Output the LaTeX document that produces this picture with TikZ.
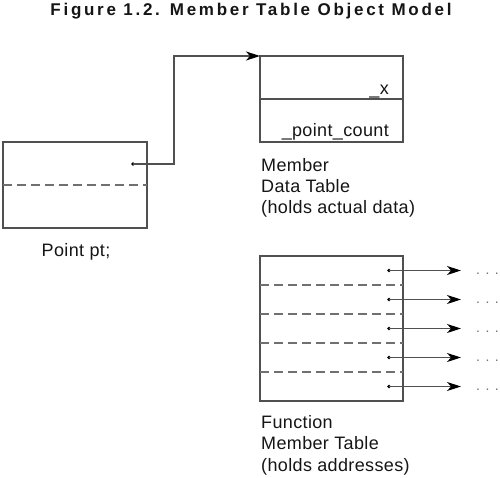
\documentclass[tikz,border=0pt]{standalone}
\usepackage{fontspec}
\setmainfont{Liberation Sans}
\newfontfamily\titlefont[LetterSpace=16]{Liberation Sans Bold}
\newfontfamily\labelfont[LetterSpace=2]{Liberation Sans}
\usetikzlibrary{arrows.meta, positioning}
\definecolor{linegray}{HTML}{505050}
\definecolor{dashgray}{HTML}{707070}
\definecolor{textgray}{HTML}{151515}
\tikzstyle{tablebox}=
[
	rectangle
	,minimum width=143pt
	,inner sep=0pt
	,outer sep=0pt
	,draw=linegray
	,line width=1.3pt
]
\tikzstyle{caption}=
[
	anchor=north west
	,inner sep=0pt
	,align=left
	,text=textgray
	,font=\labelfont\fontsize{18}{21.2}\selectfont
]
\tikzstyle{cell}=
[
	anchor=base east
	,inner sep=0pt
	,text=textgray
	,font=\labelfont\fontsize{18}{21}\selectfont
]
\tikzstyle{sep}=[draw=dashgray, line width=1.3pt, dash pattern=on 9pt off 5pt]
\tikzstyle{arrow} = [draw=linegray, line width=1.3pt, -{Stealth[length=14pt,width=9pt,inset=4pt,color=black]}]
\tikzstyle{line} = [draw=linegray, line width=1.3pt, -]

\begin{document}
\begin{tikzpicture}[x=1pt,y=-1pt]
\useasboundingbox (0,0) rectangle (500,477);
\node(title)[anchor=base, inner sep=0pt, text=textgray, font=\titlefont\fontsize{17}{19}\selectfont] at (251,15) {Figure 1.2. Member Table Object Model};

% Point pt;
\node(pt)[tablebox, minimum width=144pt, minimum height=86pt] at (75,185) {};
\draw[sep](pt.west)--(pt.east);
\coordinate(ptr) at (133,164);
\fill[black](ptr) circle (1.8pt);
\node(ptname)[cell, anchor=base] at (76,256.5) {Point pt;};

% member data table
\node(dx)[tablebox, minimum height=43pt] at (331.5,77.5) {};
\node(dcount)[tablebox, minimum height=43pt, below=0pt of dx] {};
\node(xlab)[cell] at ([xshift=-14pt,yshift=5pt]dx.south east) {\_x};
\node(countlab)[cell] at ([xshift=-14pt,yshift=6pt]dcount.south east) {\_point\_count};
\node(datacap)[caption] at (261,158.3) {Member\\Data Table\\(holds actual data)};

\coordinate(bend) at (174,56);
\draw[arrow](ptr)-|(bend)--(dx.north west);

% function member table
\node(fn)[tablebox, minimum height=145pt] at (331.5,328.5) {};
\foreach \k in {1,...,4}
	\draw[sep]([yshift=-29*\k pt]fn.north west)--([yshift=-29*\k pt]fn.north east);
\foreach \i in {1,...,5}
{
	\coordinate(f\i) at (389,241.5+29*\i);
	\coordinate(tip\i) at (461,241.5+29*\i);
	\fill[black](f\i) circle (1.8pt);
	\draw[arrow](f\i)--(tip\i);
	\node(more\i)[anchor=base west, inner sep=0pt, text=dashgray, font=\fontsize{14}{16}\selectfont] at (476,245.5+29*\i) {.\hspace{5.5pt}.\hspace{5.5pt}.};
}
\node(fncap)[caption] at (261,415.5) {Function\\Member Table\\(holds addresses)};

\end{tikzpicture}
\end{document}
